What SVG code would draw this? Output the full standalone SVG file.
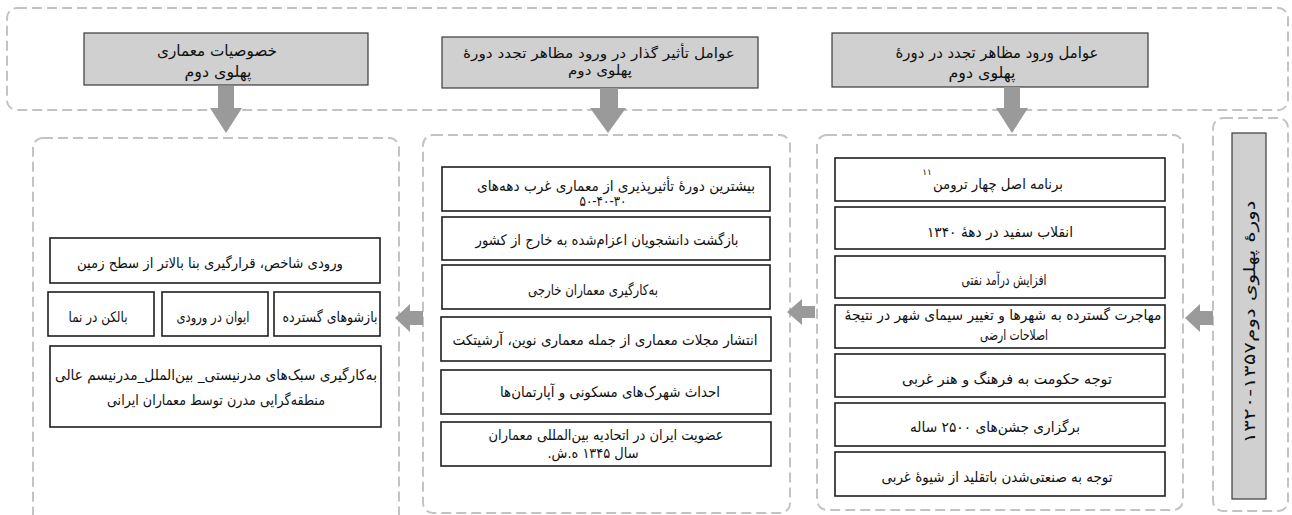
<svg xmlns="http://www.w3.org/2000/svg" width="1292" height="515" viewBox="0 0 1292 515">
<style>
.dash{fill:none;stroke:#c3c3c3;stroke-width:2;stroke-dasharray:10 5}
.hdr{fill:#d0d0d0;stroke:#3a3a3a;stroke-width:1.2}
.box{fill:#ffffff;stroke:#1e1e1e;stroke-width:1.6}
.arr{fill:#9a9a9a}
text{font-family:'DejaVu Sans',sans-serif;font-size:14.5px;fill:#111;direction:rtl;text-anchor:middle}
.h{font-size:15.5px}
.hm{font-size:14px}
.v{font-size:16px}
.sup{font-size:9px}
</style>
<rect width="1292" height="515" fill="#ffffff"/>
<g id="frames">
<rect class="dash" x="7" y="8" width="1281" height="102" rx="10"/>
<rect class="dash" x="33" y="138" width="366" height="390" rx="10"/>
<rect class="dash" x="423" y="135" width="367" height="378" rx="10"/>
<rect class="dash" x="817" y="135" width="366" height="375" rx="10"/>
<rect class="dash" x="1213" y="118" width="75" height="393" rx="10"/>
</g>
<g id="h-left">
<rect class="hdr" x="84" y="33" width="284" height="52"/>
<text class="h" x="217" y="56" textLength="120" lengthAdjust="spacingAndGlyphs">خصوصیات معماری</text>
<text class="h" x="218" y="77" textLength="67" lengthAdjust="spacingAndGlyphs">پهلوی دوم</text>
</g>
<g id="h-mid">
<rect class="hdr" x="442" y="37" width="316" height="51"/>
<text class="hm" x="599" y="58" textLength="272" lengthAdjust="spacingAndGlyphs">عوامل تأثیر گذار در ورود مظاهر تجدد دورهٔ</text>
<text class="hm" x="600" y="75" textLength="64" lengthAdjust="spacingAndGlyphs">پهلوی دوم</text>
</g>
<g id="h-right">
<rect class="hdr" x="832" y="33" width="316" height="54"/>
<text class="h" x="997" y="58" textLength="203" lengthAdjust="spacingAndGlyphs">عوامل ورود مظاهر تجدد در دورهٔ</text>
<text class="h" x="982" y="78" textLength="67" lengthAdjust="spacingAndGlyphs">پهلوی دوم</text>
</g>
<g id="period">
<rect class="hdr" x="1232" y="133" width="34" height="366"/>
<text class="v" transform="translate(1255 322) rotate(-90)" x="0" y="0" textLength="243" lengthAdjust="spacingAndGlyphs">دورهٔ پهلوی دوم۱۳۵۷-۱۳۲۰</text>
</g>
<g id="r1"><rect class="box" x="835" y="158" width="330" height="43"/><text x="998" y="189" textLength="130" lengthAdjust="spacingAndGlyphs">برنامه اصل چهار ترومن</text><text class="sup" x="927" y="175">۱۱</text></g>
<g id="r2"><rect class="box" x="835" y="207" width="330" height="42"/><text x="1000" y="237" textLength="146" lengthAdjust="spacingAndGlyphs">انقلاب سفید در دههٔ ۱۳۴۰</text></g>
<g id="r3"><rect class="box" x="835" y="256" width="330" height="42"/><text x="1004" y="285" textLength="85" lengthAdjust="spacingAndGlyphs">افزایش درآمد نفتی</text></g>
<g id="r4"><rect class="box" x="835" y="305" width="330" height="43"/><text x="1003" y="320" textLength="317" lengthAdjust="spacingAndGlyphs">مهاجرت گسترده به شهرها و تغییر سیمای شهر در نتیجهٔ</text><text x="1014" y="340" textLength="68" lengthAdjust="spacingAndGlyphs">اصلاحات ارضی</text></g>
<g id="r5"><rect class="box" x="835" y="354" width="330" height="43"/><text x="1007" y="384" textLength="210" lengthAdjust="spacingAndGlyphs">توجه حکومت به فرهنگ و هنر غربی</text></g>
<g id="r6"><rect class="box" x="835" y="403" width="330" height="43"/><text x="995" y="432" textLength="170" lengthAdjust="spacingAndGlyphs">برگزاری جشن‌های ۲۵۰۰ ساله</text></g>
<g id="r7"><rect class="box" x="835" y="452" width="330" height="44"/><text x="997" y="482" textLength="231" lengthAdjust="spacingAndGlyphs">توجه به صنعتی‌شدن باتقلید از شیوهٔ غربی</text></g>
<g id="m1"><rect class="box" x="442" y="167" width="328" height="44"/><text x="616" y="191" textLength="278" lengthAdjust="spacingAndGlyphs">بیشترین دورهٔ تأثیرپذیری از معماری غرب دهه‌های</text><text x="603" y="206" textLength="47" lengthAdjust="spacingAndGlyphs">۵۰-۴۰-۳۰</text></g>
<g id="m2"><rect class="box" x="442" y="217" width="328" height="43"/><text x="607" y="245" textLength="263" lengthAdjust="spacingAndGlyphs">بازگشت دانشجویان اعزام‌شده به خارج از کشور</text></g>
<g id="m3"><rect class="box" x="442" y="265" width="328" height="44"/><text x="593" y="295" textLength="130" lengthAdjust="spacingAndGlyphs">به‌کارگیری معماران خارجی</text></g>
<g id="m4"><rect class="box" x="441" y="317" width="330" height="44"/><text x="605" y="345" textLength="305" lengthAdjust="spacingAndGlyphs">انتشار مجلات معماری از جمله معماری نوین، آرشیتکت</text></g>
<g id="m5"><rect class="box" x="441" y="370" width="330" height="44"/><text x="610" y="397" textLength="220" lengthAdjust="spacingAndGlyphs">احداث شهرک‌های مسکونی و آپارتمان‌ها</text></g>
<g id="m6"><rect class="box" x="441" y="422" width="330" height="44"/><text x="606" y="440" textLength="235" lengthAdjust="spacingAndGlyphs">عضویت ایران در اتحادیه بین‌المللی معماران</text><text x="593" y="458" textLength="91" lengthAdjust="spacingAndGlyphs">سال ۱۳۴۵ ه.ش.</text></g>
<g id="l1"><rect class="box" x="50" y="238" width="330" height="45"/><text x="210" y="268" textLength="266" lengthAdjust="spacingAndGlyphs">ورودی شاخص، قرارگیری بنا بالاتر از سطح زمین</text></g>
<g id="l2"><rect class="box" x="48" y="292" width="106" height="44"/><text x="98" y="322" textLength="59" lengthAdjust="spacingAndGlyphs">بالکن در نما</text></g>
<g id="l3"><rect class="box" x="162" y="292" width="106" height="44"/><text x="213" y="322" textLength="73" lengthAdjust="spacingAndGlyphs">ایوان در ورودی</text></g>
<g id="l4"><rect class="box" x="274" y="292" width="106" height="44"/><text x="330" y="322" textLength="95" lengthAdjust="spacingAndGlyphs">بازشوهای گسترده</text></g>
<g id="l5"><rect class="box" x="50" y="346" width="331" height="81"/><text x="216" y="380" textLength="322" lengthAdjust="spacingAndGlyphs">به‌کارگیری سبک‌های مدرنیستی_ بین‌الملل_مدرنیسم عالی</text><text x="216" y="405" textLength="218" lengthAdjust="spacingAndGlyphs">منطقه‌گرایی مدرن توسط معماران ایرانی</text></g>
<g id="connectors">
<polygon class="arr" points="218,86 234,86 234,108 242,108 226,133 210,108 218,108"/>
<polygon class="arr" points="600,88 618,88 618,108 626,108 608,133 590,108 600,108"/>
<polygon class="arr" points="1004,87 1020,87 1020,108 1028,108 1012,133 996,108 1004,108"/>
<polygon class="arr" points="1213,311 1200,311 1200,304 1185,318 1200,332 1200,325 1213,325"/>
<polygon class="arr" points="815,306 802,306 802,299 787,312 802,325 802,318 815,318"/>
<polygon class="arr" points="423,311 410,311 410,304 395,318 410,332 410,325 423,325"/>
</g>
</svg>
